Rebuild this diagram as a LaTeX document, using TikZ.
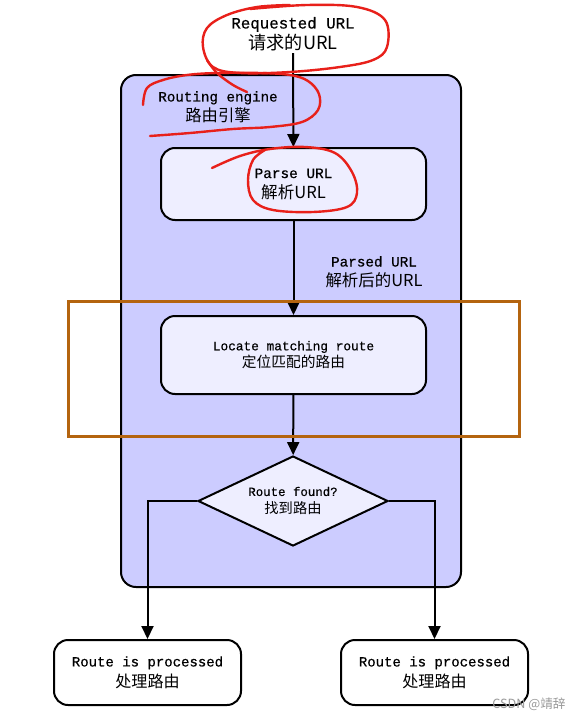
\documentclass[tikz,border=0pt]{standalone}
\usepackage{fontspec}
\setmonofont{Liberation Mono}[FakeBold=0.5]
\newfontfamily\cjk[Scale=1.15]{Noto Sans CJK SC}
\usetikzlibrary{shapes.geometric,arrows.meta}
\definecolor{outerfill}{HTML}{CCCCFF}
\definecolor{innerfill}{HTML}{EEEEFF}
\definecolor{annorange}{HTML}{B4640F}
\definecolor{annred}{HTML}{E8201A}
\begin{document}
\begin{tikzpicture}[x=1pt,y=-1pt,
  lbl/.style={align=center,inner sep=2pt,font=\fontsize{14.3}{20}\selectfont\ttfamily},
  box/.style={draw,line width=2pt,rounded corners=14pt,fill=innerfill,align=center,inner sep=0pt},
  endbox/.style={box,fill=white,minimum width=187pt,minimum height=65pt,font=\fontsize{14}{21}\selectfont\ttfamily},
  arr/.style={line width=2pt,-{Triangle[length=13pt,width=12pt]}},
  scribble/.style={annred,line width=2.4pt,line cap=round,line join=round}]
\useasboundingbox (0,0) rectangle (578,720);
% container
\node[draw,line width=2pt,fill=outerfill,rounded corners=15pt,minimum width=340pt,minimum height=512pt,inner sep=0pt] (engine) at (291,331) {};
\node[lbl,font=\fontsize{14.2}{20}\selectfont\ttfamily] (enginelabel) at (218,107) {Routing engine\\{\cjk 路由引擎}};
% texts and boxes
\node[lbl,font=\fontsize{15.8}{21}\selectfont\ttfamily] (req) at (293,34) {Requested URL\\{\cjk 请求的URL}};
\node[box,minimum width=265pt,minimum height=72pt,font=\fontsize{14.4}{20}\selectfont\ttfamily] (parse) at (293.5,184) {Parse URL\\{\cjk 解析URL}};
\node[box,minimum width=265pt,minimum height=78pt,font=\fontsize{12.8}{17.5}\selectfont\ttfamily] (locate) at (293.5,355) {Locate matching route\\{\cjk 定位匹配的路由}};
\node[lbl] (parsedlabel) at (374,272) {Parsed URL\\{\cjk 解析后的URL}};
\node[diamond,draw,line width=2pt,fill=innerfill,aspect=2.1,minimum width=190pt,minimum height=90pt,inner sep=0pt,align=center,font=\fontsize{12.4}{18}\selectfont\ttfamily] (dia) at (293,501) {Route found?\\{\cjk 找到路由}};
\node[endbox] (left) at (147.5,672.5) {Route is processed\\{\cjk 处理路由}};
\node[endbox] (right) at (434.5,672.5) {Route is processed\\{\cjk 处理路由}};
% connectors
\draw[arr] (req) -- (parse);
\draw[arr] (parse) -- (locate);
\draw[arr] (locate) -- (dia);
\draw[arr] (dia.west) -| (left.north);
\draw[arr] (dia.east) -| (right.north);
% annotations
\draw[annorange,line width=3pt] (68,301) rectangle (519,436);
\draw[scribble] plot[smooth,tension=0.6] coordinates {(250,9) (307,5) (357,7) (385,20) (387,47) (373,60) (340,67) (290,72) (240,73) (213,67) (203,47) (207,28) (227,15) (257,7) (290,5)};
\draw[scribble] plot[smooth,tension=0.6] coordinates {(207,60) (217,73) (233,85) (247,92)};
\draw[scribble] plot[smooth,tension=0.6] coordinates {(143,105) (147,88) (163,80) (187,75) (217,73) (260,73) (290,75) (308,81) (319,94) (318,110) (302,122) (270,127) (233,129) (190,133) (150,136)};
\draw[scribble] plot[smooth,tension=0.6] coordinates {(212,168) (240,156) (270,149) (305,147) (335,153) (352,172) (357,193) (347,207) (313,212) (273,210) (253,200) (248,180) (253,160) (265,150)};
% watermark
\node[inner sep=0pt,text=black!40,font=\fontsize{11}{13}\selectfont\cjk] (mark) at (529,704) {CSDN @靖辞};
\end{tikzpicture}
\end{document}
